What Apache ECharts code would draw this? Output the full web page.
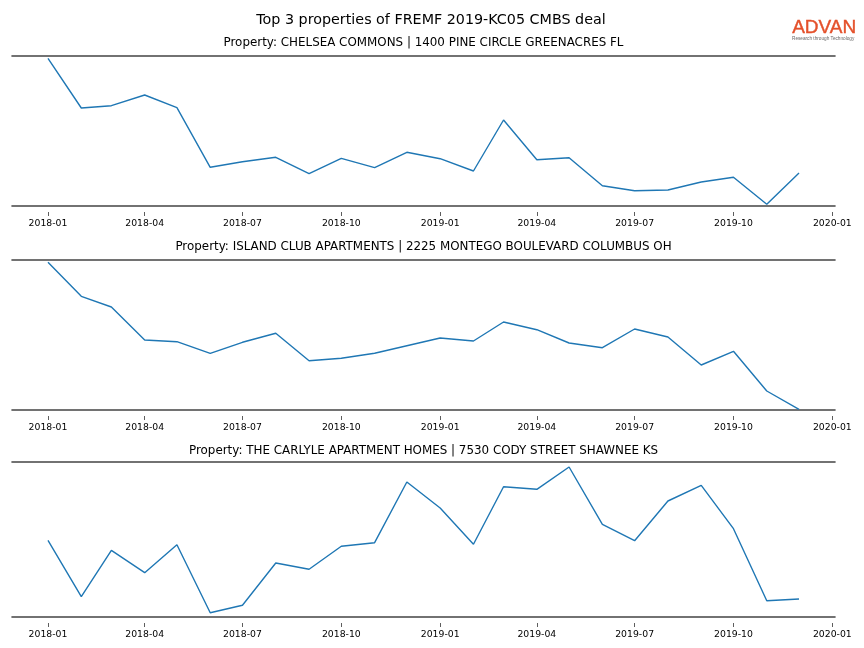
<!DOCTYPE html>
<html>
<head>
<meta charset="utf-8">
<script src="https://cdn.jsdelivr.net/npm/echarts@6/dist/echarts.min.js"></script>
<style>html,body{margin:0;padding:0;background:#fff}#c{width:864px;height:648px}</style>
</head>
<body>
<div id="c"></div>
<script>
const months = ['2018-01','2018-02','2018-03','2018-04','2018-05','2018-06','2018-07','2018-08','2018-09','2018-10','2018-11','2018-12',
                '2019-01','2019-02','2019-03','2019-04','2019-05','2019-06','2019-07','2019-08','2019-09','2019-10','2019-11','2019-12'];
const tickLabels = ['2018-01','2018-04','2018-07','2018-10','2019-01','2019-04','2019-07','2019-10','2020-01'];
const mainTitle = 'Top 3 properties of FREMF 2019-KC05 CMBS deal';
const titles = [
  'Property: CHELSEA COMMONS | 1400 PINE CIRCLE GREENACRES FL',
  'Property: ISLAND CLUB APARTMENTS | 2225 MONTEGO BOULEVARD COLUMBUS OH',
  'Property: THE CARLYLE APARTMENT HOMES | 7530 CODY STREET SHAWNEE KS'
];
// relative visit index (arbitrary units)
const chelsea = [147.7,98,100.3,111,98.3,38.7,44.3,48.7,32.3,47.7,38.3,53.7,47.3,35,86,46.3,48.3,20.3,15.3,16,24,28.7,1.7,33];
const islandClub = [147.7,113.7,103,70,68.3,56.7,67.7,76.7,49.3,51.7,56.7,64.3,72,69,88,80.3,67,62.3,81,73,45,58.7,19,0.7];
const carlyle = [76.7,20.3,66.7,44.3,72.3,4.3,11.7,54,47.7,70.7,74.3,135,109,72.7,130.3,127.7,150,92.7,76.3,116,131.7,88.3,16.3,18];
const seriesData = [chelsea, islandClub, carlyle];
const yMax = [150, 150, 155];

function ts(s){ const p = s.split('-'); return Date.UTC(+p[0], +p[1]-1, 1); }
const DAY = 86400000;
const xMin = ts(months[0]) - 33.5*DAY;
const xMax = ts(months[months.length-1]) + 33.5*DAY;
const tickVals = tickLabels.map(ts);
function fmt(v){ const d=new Date(v); return d.getUTCFullYear()+'-'+String(d.getUTCMonth()+1).padStart(2,'0'); }

const grids = [
  {left:12, right:29, top:56, height:150},
  {left:12, right:29, top:260, height:150},
  {left:12, right:29, top:462, height:155}
];
const titleY = [43, 247, 451];

const xAxes = [], yAxes = [], series = [];
const graphics = [];
graphics.push({type:'text', x:431, y:20, style:{text:mainTitle, align:'center', verticalAlign:'middle',
  fontFamily:'DejaVu Sans', fontSize:14.3, fill:'#000'}});
for (let i=0;i<3;i++){
  graphics.push({type:'text', x:423.5, y:titleY[i], style:{text:titles[i], align:'center', verticalAlign:'middle',
    fontFamily:'DejaVu Sans', fontSize:11.9, fill:'#000'}});
  // bottom spine
  xAxes.push({type:'value', gridIndex:i, min:xMin, max:xMax, position:'bottom', scale:true,
    axisLine:{show:true, onZero:false, lineStyle:{color:'#444', width:1.6}},
    axisTick:{show:false}, axisLabel:{show:false}, splitLine:{show:false}});
  // top spine
  xAxes.push({type:'value', gridIndex:i, min:xMin, max:xMax, position:'top', scale:true,
    axisLine:{show:true, onZero:false, lineStyle:{color:'#444', width:1.6}},
    axisTick:{show:false}, axisLabel:{show:false}, splitLine:{show:false}});
  // ticks + labels, offset below the spine
  xAxes.push({type:'value', gridIndex:i, min:xMin, max:xMax, position:'bottom', offset:6, scale:true,
    axisLine:{show:false, onZero:false},
    axisTick:{show:true, customValues:tickVals, length:4, lineStyle:{color:'#333', width:0.8}},
    axisLabel:{show:true, customValues:tickVals, margin:7.5, fontFamily:'DejaVu Sans', fontSize:9.3, color:'#000',
      formatter:fmt},
    splitLine:{show:false}});
  yAxes.push({type:'value', gridIndex:i, min:0, max:yMax[i], show:false, splitLine:{show:false}});
  series.push({type:'line', xAxisIndex:3*i, yAxisIndex:i, symbol:'none', silent:true, animation:false,
    lineStyle:{color:'#1f77b4', width:1.4},
    data: months.map((m,k)=>[ts(m), seriesData[i][k]])});
}
graphics.push({type:'text', left:792, top:18.5, style:{text:'ADVAN', fontFamily:'Liberation Sans', fontSize:19,
  fill:'#e4502a', stroke:'#e4502a', lineWidth:0.4}});
graphics.push({type:'text', left:792, top:36, style:{text:'Research through Technology', fontFamily:'Liberation Sans',
  fontSize:4.7, fill:'#666'}});

const chart = echarts.init(document.getElementById('c'), null, {renderer:'canvas'});
chart.setOption({
  animation:false,
  backgroundColor:'#fff',
  grid:grids,
  xAxis:xAxes,
  yAxis:yAxes,
  series:series,
  graphic:graphics
});
</script>
</body>
</html>
